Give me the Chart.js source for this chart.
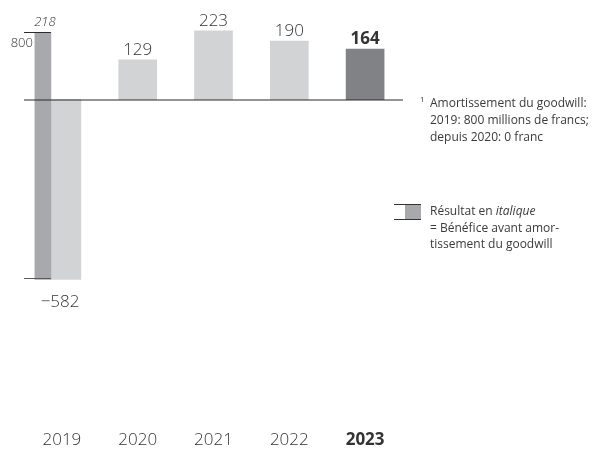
<!DOCTYPE html>
<html>
<head>
<meta charset="utf-8">
<script src="https://cdn.jsdelivr.net/npm/chart.js@4/dist/chart.umd.min.js"></script>
<style>
  html, body { margin: 0; padding: 0; background: #fff; }
  #wrap { position: relative; width: 598px; height: 455px; overflow: hidden; }
  #c { position: absolute; left: 0; top: 0; }
  .note { position: absolute; font-family: "Open Sans", sans-serif; font-size: 12px; color: #3a3a3a; white-space: nowrap; }
  .note sup { position: absolute; left: -10px; top: -4px; font-size: 8px; }
  #key { position: absolute; left: 394px; top: 204px; width: 27px; height: 14px; border-top: 1px solid #333; border-bottom: 1px solid #333; }
  #key span { position: absolute; left: 11px; top: 0; width: 16px; height: 14px; background: #a7a9ac; }
</style>
</head>
<body>
<div id="wrap">
  <canvas id="c" width="598" height="455"></canvas>
  <div class="note" style="left:430px; top:94px; line-height:17px;"><sup>1</sup>Amortissement du goodwill:<br>2019: 800 millions de francs;<br>depuis 2020: 0 franc</div>
  <div id="key"><span></span></div>
  <div class="note" style="left:430px; top:203px; line-height:16.5px;">Résultat en <i>italique</i><br>= Bénéfice avant amor-<br>tissement du goodwill</div>
</div>
<script>
// Résultat annuel, en millions de francs
const years = ['2019', '2020', '2021', '2022', '2023'];
const result = [-582, 129, 223, 190, 164];
// Amortissement du goodwill, en millions de francs
const goodwillAmort = [800, 0, 0, 0, 0];

const FONT = '"Open Sans", sans-serif';
const TEXT = '#333333';
const LIGHT = '#d1d3d4';
const MID = '#a7a9ac';
const DARK = '#808285';
const last = years.length - 1;
const hasAmort = goodwillAmort.map(a => a > 0);

// Years with an amortisation show a narrow amortisation bar beside a narrower result bar
const amortData = years.map((_, i) => hasAmort[i] ? [result[i], result[i] + goodwillAmort[i]] : null);
const pairedResult = result.map((v, i) => hasAmort[i] ? v : null);
const plainResult = result.map((v, i) => hasAmort[i] ? null : v);

// Horizontal pixel shift of the paired bars inside their category
const shiftPlugin = {
  id: 'shift',
  afterDatasetsUpdate(chart) {
    chart.data.datasets.forEach((ds, di) => {
      if (!ds.xShift) return;
      chart.getDatasetMeta(di).data.forEach(el => { el.x += ds.xShift; });
    });
  }
};

const labelPlugin = {
  id: 'labels',
  afterDatasetsDraw(chart) {
    const { ctx, chartArea, scales: { y } } = chart;
    const y0 = Math.round(y.getPixelForValue(0));
    ctx.save();

    // zero line
    ctx.strokeStyle = '#2a2a2a';
    ctx.lineWidth = 1.2;
    ctx.beginPath();
    ctx.moveTo(chartArea.left, y0);
    ctx.lineTo(chartArea.right, y0);
    ctx.stroke();

    ctx.fillStyle = TEXT;
    ctx.textAlign = 'center';
    ctx.textBaseline = 'alphabetic';

    // result values
    [1, 2].forEach(di => {
      const meta = chart.getDatasetMeta(di);
      meta.data.forEach((el, i) => {
        const v = chart.data.datasets[di].data[i];
        if (v === null || v === undefined) return;
        ctx.font = (i === last ? '700 ' : '300 ') + '17px ' + FONT;
        if (v >= 0) {
          ctx.fillText(String(v), el.x, y.getPixelForValue(v) - 5);
        } else {
          const txt = '\u2212' + Math.abs(v);
          const mw = ctx.measureText('\u2212').width;
          ctx.fillText(txt, el.x - mw / 2 - 1, y.getPixelForValue(v) + 28);
        }
      });
    });

    // amortisation span: end markers, total before amortisation, amount
    const am = chart.getDatasetMeta(0);
    am.data.forEach((el, i) => {
      const d = chart.data.datasets[0].data[i];
      if (!d) return;
      const top = Math.round(y.getPixelForValue(d[1]));
      const bot = Math.round(y.getPixelForValue(d[0]));
      const right = el.x + el.width / 2;
      const left = el.x - el.width / 2;
      ctx.lineWidth = 1;
      ctx.strokeStyle = '#2a2a2a';
      ctx.beginPath();
      ctx.moveTo(chartArea.left, top + 0.5);
      ctx.lineTo(right, top + 0.5);
      ctx.stroke();
      ctx.strokeStyle = '#5a5a5a';
      ctx.beginPath();
      ctx.moveTo(chartArea.left, bot - 0.5);
      ctx.lineTo(right, bot - 0.5);
      ctx.stroke();

      ctx.font = 'italic 300 13px ' + FONT;
      ctx.textAlign = 'center';
      ctx.fillText(String(d[1]), el.x + 2, top - 6);
      ctx.font = '300 13px ' + FONT;
      ctx.textAlign = 'right';
      ctx.fillText(String(goodwillAmort[i]), left - 2, top + 15);
    });
    ctx.restore();
  }
};

new Chart(document.getElementById('c'), {
  type: 'bar',
  data: {
    labels: years,
    datasets: [
      { label: 'Amortissement du goodwill', data: amortData, backgroundColor: MID, barThickness: 16, xShift: -19 },
      { label: 'Résultat', data: pairedResult, backgroundColor: LIGHT, barThickness: 30, xShift: 4 },
      { label: 'Résultat', data: plainResult, barThickness: 38,
        backgroundColor: ctx => ctx.dataIndex === last ? DARK : LIGHT }
    ]
  },
  options: {
    responsive: false,
    devicePixelRatio: 1,
    animation: false,
    events: [],
    grouped: false,
    datasets: { bar: { grouped: false } },
    layout: { padding: { left: 24, right: 195, top: 7, bottom: 0 } },
    plugins: { legend: { display: false }, tooltip: { enabled: false } },
    scales: {
      x: {
        grid: { display: false, drawTicks: false },
        border: { display: false },
        afterFit: s => { s.height = 31; },
        ticks: {
          color: TEXT,
          padding: 6,
          font: ctx => ({ family: FONT, size: 17, weight: ctx.index === last ? '700' : '300' })
        }
      },
      y: { display: false, min: -1050, max: 300 }
    }
  },
  plugins: [shiftPlugin, labelPlugin]
});
</script>
</body>
</html>
